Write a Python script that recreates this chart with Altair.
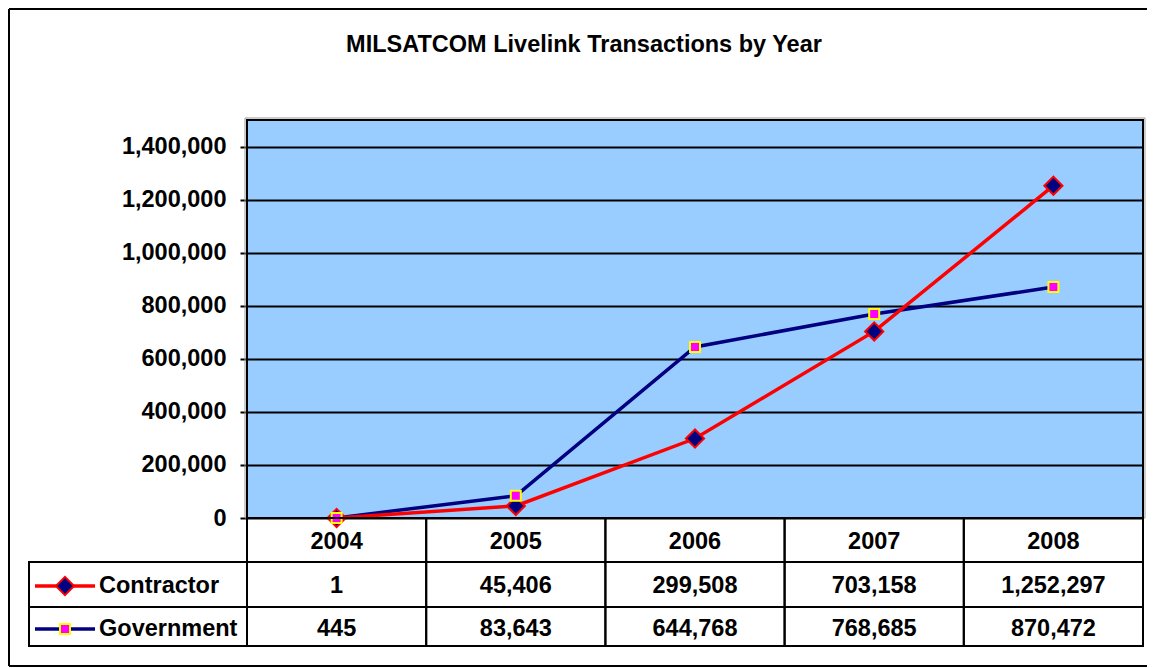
import altair as alt
import pandas as pd

# ---------------- data ----------------
years = ["2004", "2005", "2006", "2007", "2008"]
series_names = ["Contractor", "Government"]
contractor = [1, 45406, 299508, 703158, 1252297]
government = [445, 83643, 644768, 768685, 870472]
y_ticks = [0, 200000, 400000, 600000, 800000, 1000000, 1200000, 1400000]
title_text = "MILSATCOM Livelink Transactions by Year"

rows = []
for s, vals in zip(series_names, [contractor, government]):
    for yr, v in zip(years, vals):
        rows.append({"year": yr, "series": s, "value": v, "label": f"{v:,}"})
df = pd.DataFrame(rows)
years_df = pd.DataFrame({"year": years})
names_df = pd.DataFrame({"series": series_names})
one = pd.DataFrame({"t": [title_text]})

FONT = "Liberation Sans"
FS = 23.5
W, H = 896, 398
RED, NAVY = "#FF0000", "#000080"
LW = 3.5
DIA = 330
SQ = 100

x_enc = alt.X("year:O",
              scale=alt.Scale(type="band", domain=years, paddingInner=0, paddingOuter=0),
              axis=None)
y_enc = alt.Y("value:Q",
              scale=alt.Scale(domain=[0, 1500000], nice=False, zero=True),
              axis=alt.Axis(values=y_ticks, labelExpr="format(datum.value, ',')",
                            title=None, grid=True,
                            gridColor="black", gridWidth=2, gridOpacity=1,
                            domain=False, ticks=True, tickSize=7, tickColor="black",
                            tickWidth=2, labelFont=FONT, labelFontSize=FS,
                            labelFontWeight="bold", labelColor="black",
                            labelPadding=14))

base = alt.Chart(df)

frame_top = alt.Chart(one).mark_rule(color="black", strokeWidth=2).encode(
    x=alt.value(-238), x2=alt.value(900), y=alt.value(-111))
frame_left = alt.Chart(one).mark_rule(color="black", strokeWidth=2).encode(
    x=alt.value(-238), y=alt.value(-111), y2=alt.value(546))
frame_bottom = alt.Chart(one).mark_rule(color="black", strokeWidth=2).encode(
    x=alt.value(-238), x2=alt.value(900), y=alt.value(546))

title = alt.Chart(one).mark_text(font=FONT, fontSize=FS, fontWeight="bold", color="black",
                                 align="center", baseline="middle").encode(
    x=alt.value(337), y=alt.value(-75), text="t:N")

# shadow around plot border
shadow = alt.Chart(one).mark_rect(fillOpacity=0, stroke="#999999", strokeWidth=1).encode(
    x=alt.value(-2), x2=alt.value(W + 2), y=alt.value(-2), y2=alt.value(H))

gov_line = base.transform_filter(alt.datum.series == "Government").mark_line(
    color=NAVY, strokeWidth=LW).encode(x=x_enc, y=y_enc)
con_line = base.transform_filter(alt.datum.series == "Contractor").mark_line(
    color=RED, strokeWidth=LW).encode(x=x_enc, y=y_enc)
con_pts = base.transform_filter(alt.datum.series == "Contractor").mark_point(
    shape="diamond", filled=True, fill=NAVY, stroke=RED, strokeWidth=2, size=DIA,
    opacity=1).encode(x=x_enc, y=y_enc)
gov_pts = base.transform_filter(alt.datum.series == "Government").mark_point(
    shape="square", filled=True, fill="#FF00FF", stroke="#FFFF00", strokeWidth=2, size=SQ,
    opacity=1).encode(x=x_enc, y=y_enc)

# ---------------- data table ----------------
cells = alt.Chart(years_df).mark_rect(fillOpacity=0, stroke="black", strokeWidth=2).encode(
    x=x_enc, y=alt.value(H), y2=alt.value(526))
left_box = alt.Chart(one).mark_rect(fillOpacity=0, stroke="black", strokeWidth=2).encode(
    x=alt.value(-218), x2=alt.value(0), y=alt.value(442), y2=alt.value(526))
hrule1 = alt.Chart(one).mark_rule(color="black", strokeWidth=2).encode(
    x=alt.value(-218), x2=alt.value(W), y=alt.value(442))
hrule2 = alt.Chart(one).mark_rule(color="black", strokeWidth=2).encode(
    x=alt.value(-218), x2=alt.value(W), y=alt.value(487))

txt = dict(font=FONT, fontSize=FS, fontWeight="bold", color="black", baseline="middle")
header = alt.Chart(years_df).mark_text(**txt).encode(x=x_enc, y=alt.value(422), text="year:N")
con_vals = base.transform_filter(alt.datum.series == "Contractor").mark_text(**txt).encode(
    x=x_enc, y=alt.value(466), text="label:N")
gov_vals = base.transform_filter(alt.datum.series == "Government").mark_text(**txt).encode(
    x=x_enc, y=alt.value(509), text="label:N")

# legend keys in the table
names = alt.Chart(names_df)
con_key_line = names.transform_filter(alt.datum.series == "Contractor").mark_rule(
    color=RED, strokeWidth=LW).encode(x=alt.value(-212), x2=alt.value(-152), y=alt.value(466))
gov_key_line = names.transform_filter(alt.datum.series == "Government").mark_rule(
    color=NAVY, strokeWidth=LW).encode(x=alt.value(-212), x2=alt.value(-152), y=alt.value(509))
con_key_pt = names.transform_filter(alt.datum.series == "Contractor").mark_point(
    shape="diamond", filled=True, fill=NAVY, stroke=RED, strokeWidth=2, size=DIA,
    opacity=1).encode(x=alt.value(-182), y=alt.value(466))
gov_key_pt = names.transform_filter(alt.datum.series == "Government").mark_point(
    shape="square", filled=True, fill="#FF00FF", stroke="#FFFF00", strokeWidth=2, size=SQ,
    opacity=1).encode(x=alt.value(-182), y=alt.value(509))
con_name = names.transform_filter(alt.datum.series == "Contractor").mark_text(
    align="left", **txt).encode(x=alt.value(-148), y=alt.value(466), text="series:N")
gov_name = names.transform_filter(alt.datum.series == "Government").mark_text(
    align="left", **txt).encode(x=alt.value(-148), y=alt.value(509), text="series:N")

chart = alt.layer(
    shadow, gov_line, con_line, con_pts, gov_pts,
    frame_top, frame_left, frame_bottom, title,
    cells, left_box, hrule1, hrule2,
    header, con_vals, gov_vals,
    con_key_line, gov_key_line, con_key_pt, gov_key_pt, con_name, gov_name,
).properties(
    width=W, height=H,
    autosize=alt.AutoSizeParams(type="none"),
    padding={"left": 239, "top": 112, "right": 7, "bottom": 150},
    background="white",
).configure_view(
    fill="#99CCFF", stroke="black", strokeWidth=2
)

chart.save("out.html", embed_options={"renderer": "svg", "actions": False})
